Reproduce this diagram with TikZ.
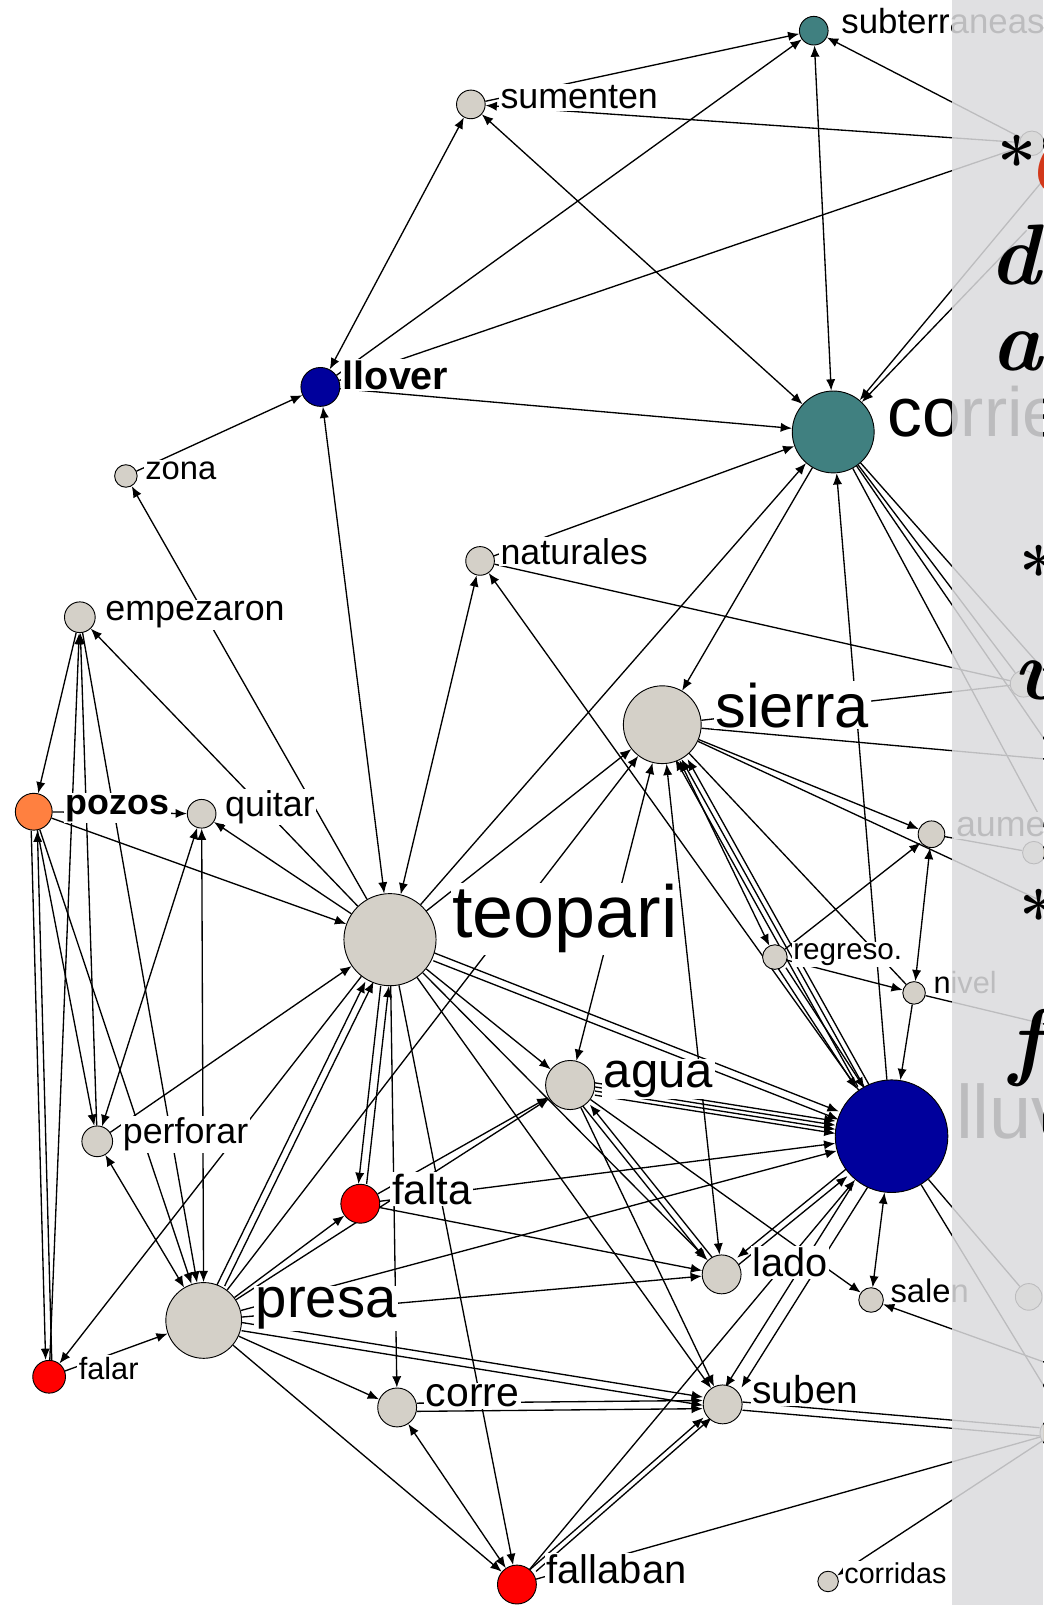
\documentclass[tikz,border=0pt]{standalone}
\usepackage{fontspec}
\newfontfamily\labfont{Liberation Sans}
\usetikzlibrary{arrows.meta}
\definecolor{ndgray}{HTML}{D4D0C8}
\definecolor{nteal}{HTML}{408080}
\definecolor{nnavy}{HTML}{00009C}
\definecolor{norange}{HTML}{FF8040}
\definecolor{nred}{HTML}{FF0000}
\definecolor{panelc}{HTML}{DCDCDE}
\definecolor{scriptred}{HTML}{D2381A}
\pgfdeclarelayer{back}
\pgfdeclarelayer{edges}
\pgfdeclarelayer{front}
\pgfsetlayers{back,edges,main,front}
\begin{document}
\begin{tikzpicture}[x=0.5pt,y=-0.5pt,
  every node/.style={inner sep=0pt},
  nd/.style={circle, draw=black, line width=0.45pt, minimum size=#1pt, fill=ndgray},
  lab/.style={anchor=mid west, fill=white, inner sep=0.8pt, font=\labfont\fontsize{#1}{#1}\selectfont},
  e/.style={line width=0.65pt, -{Latex[length=5.5pt,width=4.5pt]}},
  b/.style={line width=0.65pt, {Latex[length=5.5pt,width=4.5pt]}-{Latex[length=5.5pt,width=4.5pt]}},
  p/.style={line width=0.65pt},
  up/.style={transform canvas={yshift=#1pt}},
  rt/.style={transform canvas={xshift=#1pt}},
  scr/.style={anchor=base west, font=\fontsize{42}{42}\selectfont\bfseries\itshape},
  star/.style={anchor=base west, font=\fontsize{34}{34}\selectfont\bfseries}
]
\begin{pgfonlayer}{back}
  \fill[white] (0,0) rectangle (1019,1568);
\end{pgfonlayer}
\useasboundingbox (0,0) rectangle (1019,1568);

% ---- nodes ----
\node[nd=14, fill=nteal] (sub) at (795,30) {};
\node[nd=14] (sum) at (460,102) {};
\node[nd=19, fill=nnavy] (llo) at (313,378) {};
\node[nd=11] (zon) at (123,465) {};
\node[nd=40, fill=nteal] (cor) at (814,422) {};
\node[nd=14] (nat) at (469,548) {};
\node[nd=15] (emp) at (78,603) {};
\node[nd=38] (sie) at (647,708) {};
\node[nd=18, fill=norange] (poz) at (33,793) {};
\node[nd=14] (qui) at (197,795) {};
\node[nd=13] (aum) at (910,815) {};
\node[nd=45] (teo) at (381,918) {};
\node[nd=12] (reg) at (757,935) {};
\node[nd=11] (niv) at (893,970) {};
\node[nd=24] (agu) at (557,1060) {};
\node[nd=55, fill=nnavy] (llu) at (871,1110) {};
\node[nd=15] (per) at (95,1115) {};
\node[nd=19, fill=nred] (fal) at (352,1176) {};
\node[nd=19] (lad) at (705,1245) {};
\node[nd=12] (sal) at (851,1270) {};
\node[nd=37] (pre) at (199,1290) {};
\node[nd=16, fill=nred] (ftr) at (48,1345) {};
\node[nd=19] (crr) at (388,1375) {};
\node[nd=19] (sbn) at (706,1372) {};
\node[nd=19, fill=nred] (fll) at (505,1548) {};
\node[nd=10] (cds) at (809,1545) {};
% nodes lying under the side panel
\node[nd=12] (ga) at (1008,140) {};
\node[nd=13] (gb) at (1000,668) {};
\node[nd=11] (gc) at (1010,833) {};
\node[nd=13] (gd) at (1005,1267) {};
\node[nd=14] (ge) at (1030,1400) {};
\coordinate (o1) at (1060,127);
\coordinate (o2) at (1003,225);
\coordinate (o3) at (1060,700);
\coordinate (o4) at (1060,780);
\coordinate (o5) at (1060,745);
\coordinate (o6) at (1060,880);
\coordinate (o7) at (1060,1010);
\coordinate (o8) at (1060,900);
\coordinate (o9) at (1060,1420);
\coordinate (o10) at (1060,1345);

% ---- labels ----
\node[lab=17] (sub-l) at (820,28) {subterraneas};
\node[lab=17.5] (sum-l) at (487,102) {sumenten};
\node[lab=19.3, font=\labfont\bfseries\fontsize{19.3}{19.3}\selectfont] (llo-l) at (333,376) {llover};
\node[lab=16] (zon-l) at (140,464) {zona};
\node[lab=34] (cor-l) at (865,422) {corrientes};
\node[lab=17.5] (nat-l) at (487,547) {naturales};
\node[lab=17.5] (emp-l) at (101,602) {empezaron};
\node[lab=30] (sie-l) at (697,706) {sierra};
\node[lab=17.5, font=\labfont\bfseries\fontsize{17.5}{17.5}\selectfont] (poz-l) at (62,791) {pozos};
\node[lab=17.5] (qui-l) at (218,793) {quitar};
\node[lab=17.5] (aum-l) at (932,813) {aumentar};
\node[lab=36] (teo-l) at (440,912) {teopari};
\node[lab=14.5] (reg-l) at (773,933) {regreso.};
\node[lab=15] (niv-l) at (910,966) {nivel};
\node[lab=24] (agu-l) at (588,1058) {agua};
\node[lab=37] (llu-l) at (932,1108) {lluvia};
\node[lab=17.5] (per-l) at (118,1113) {perforar};
\node[lab=20.5] (fal-l) at (381,1172) {falta};
\node[lab=19.4] (lad-l) at (733,1243) {lado};
\node[lab=16] (sal-l) at (868,1268) {salen};
\node[lab=27.5] (pre-l) at (248,1283) {presa};
\node[lab=15] (ftr-l) at (75,1343) {falar};
\node[lab=20] (crr-l) at (414,1370) {corre};
\node[lab=19] (sbn-l) at (733,1367) {suben};
\node[lab=19.5] (fll-l) at (532,1543) {fallaban};
\node[lab=14] (cds-l) at (823,1543) {corridas};

% ---- connectors ----
\begin{pgfonlayer}{edges}
% upper cluster
\draw[e] (sum) -- (sub);
\draw[e] (llo) -- (sub);
\draw[b] (sub) -- (cor);
\draw[e] (ga) -- (sub);
\draw[e] (ga) -- (sum);
\draw[b] (sum) -- (cor);
\draw[b] (llo) -- (sum);
\draw[p] (llo) -- (ga);
\draw[e] (llo) -- (cor);
\draw[e] (zon) -- (llo);
\draw[e] (o1) -- (cor);
\draw[e] (o2) -- (cor);
% left side
\draw[b] (llo) -- (teo);
\draw[b] (nat) -- (teo);
\draw[e] (teo) -- (zon);
\draw[e] (teo) -- (emp);
\draw[e] (emp) -- (poz);
\draw[e] (per) -- (emp);
\draw[e] (ftr) -- (emp);
\draw[e] (emp) -- (pre);
\draw[e] (poz) -- (qui);
\draw[e] (poz) -- (teo);
\draw[e] (teo) -- (qui);
\draw[e] (poz) -- (per);
\draw[b] (qui) -- (per);
\draw[b] (pre) -- (qui);
\draw[e] (poz) -- (pre);
\draw[e, rt=-1.5] (poz) -- (ftr);
\draw[e, rt=1.5] (ftr) -- (poz);
\draw[e] (teo) -- (ftr);
\draw[e] (ftr) -- (pre);
\draw[b] (per) -- (pre);
\draw[e] (per) -- (teo);
\draw[e, rt=-2] (pre) -- (teo);
\draw[e, rt=2] (pre) -- (teo);
\draw[e, rt=-2] (teo) -- (fal);
\draw[e, rt=2] (fal) -- (teo);
\draw[e] (pre) -- (fal);
% corrientes and sierra
\draw[e] (nat) -- (cor);
\draw[e] (teo) -- (cor);
\draw[e] (cor) -- (sie);
\draw[e] (llu) -- (cor);
\draw[p] (cor) -- (gb);
\draw[p] (cor) -- (o3);
\draw[p] (cor) -- (o4);
\draw[p] (cor) -- (o6);
\draw[e] (teo) -- (sie);
\draw[e] (pre) -- (sie);
\draw[e, rt=-3] (llu) -- (sie);
\draw[e] (llu) -- (sie);
\draw[e, rt=3] (llu) -- (sie);
\draw[b] (sie) -- (reg);
\draw[e] (sie) -- (aum);
\draw[p] (sie) -- (niv);
\draw[b] (sie) -- (lad);
\draw[b] (sie) -- (agu);
\draw[p] (sie) -- (gb);
\draw[p] (sie) -- (o5);
\draw[p] (sie) -- (o8);
\draw[p] (nat) -- (gb);
\draw[e] (llu) -- (nat);
% lluvia
\draw[e, up=3] (agu) -- (llu);
\draw[e, up=1] (agu) -- (llu);
\draw[e, up=-1] (agu) -- (llu);
\draw[e, up=-3] (agu) -- (llu);
\draw[e] (fal) -- (llu);
\draw[e] (pre) -- (llu);
\draw[e, up=2] (teo) -- (llu);
\draw[e, up=-2] (teo) -- (llu);
\draw[e, rt=-2] (reg) -- (llu);
\draw[e, rt=2] (reg) -- (llu);
\draw[e] (niv) -- (llu);
\draw[b] (llu) -- (sal);
\draw[e, rt=-4] (llu) -- (sbn);
\draw[e, rt=4] (llu) -- (sbn);
\draw[e, up=2] (llu) -- (lad);
\draw[e, up=-2] (lad) -- (llu);
\draw[p] (llu) -- (gd);
\draw[p] (llu) -- (o9);
\draw[e] (fll) -- (llu);
% agua, lado, suben
\draw[e] (teo) -- (agu);
\draw[e] (fal) -- (agu);
\draw[e] (pre) -- (agu);
\draw[e, rt=-2] (agu) -- (lad);
\draw[e, rt=2] (lad) -- (agu);
\draw[e] (agu) -- (sal);
\draw[e] (agu) -- (sbn);
\draw[e] (teo) -- (lad);
\draw[e] (teo) -- (sbn);
\draw[e] (pre) -- (lad);
\draw[e] (fal) -- (lad);
\draw[e, up=2] (pre) -- (sbn);
\draw[e, up=-2] (pre) -- (sbn);
\draw[e, up=2] (crr) -- (sbn);
\draw[e, up=-2] (crr) -- (sbn);
\draw[e, rt=-2] (fll) -- (sbn);
\draw[e, rt=2] (fll) -- (sbn);
\draw[p, up=2] (sbn) -- (ge);
\draw[p, up=-2] (sbn) -- (ge);
\draw[p] (fll) -- (ge);
\draw[e] (ge) -- (cds);
\draw[e] (o10) -- (sal);
\draw[e] (pre) -- (crr);
\draw[e] (teo) -- (crr);
\draw[b] (crr) -- (fll);
\draw[e] (pre) -- (fll);
\draw[e] (teo) -- (fll);
% nivel, regreso, aumentar
\draw[e] (reg) -- (niv);
\draw[b] (aum) -- (niv);
\draw[e] (reg) -- (aum);
\draw[p] (niv) -- (o7);
\draw[p] (aum) -- (gc);
\end{pgfonlayer}

% ---- side panel with handwritten notes ----
\begin{pgfonlayer}{front}
\fill[panelc, opacity=0.86] (930,0) rectangle (1019,1568);
\node[star] (s1) at (974,183) {*};
\node[scr, text=scriptred] (t1) at (1000,190) {C};
\node[scr] (t2) at (966,278) {de};
\node[scr] (t3) at (968,362) {ac};
\node[star] (s2) at (996,584) {*};
\node[scr] (t4) at (990,683) {v};
\node[star] (s3) at (996,920) {*};
\node[scr] (t5) at (986,1045) {f};
\end{pgfonlayer}
\end{tikzpicture}
\end{document}
